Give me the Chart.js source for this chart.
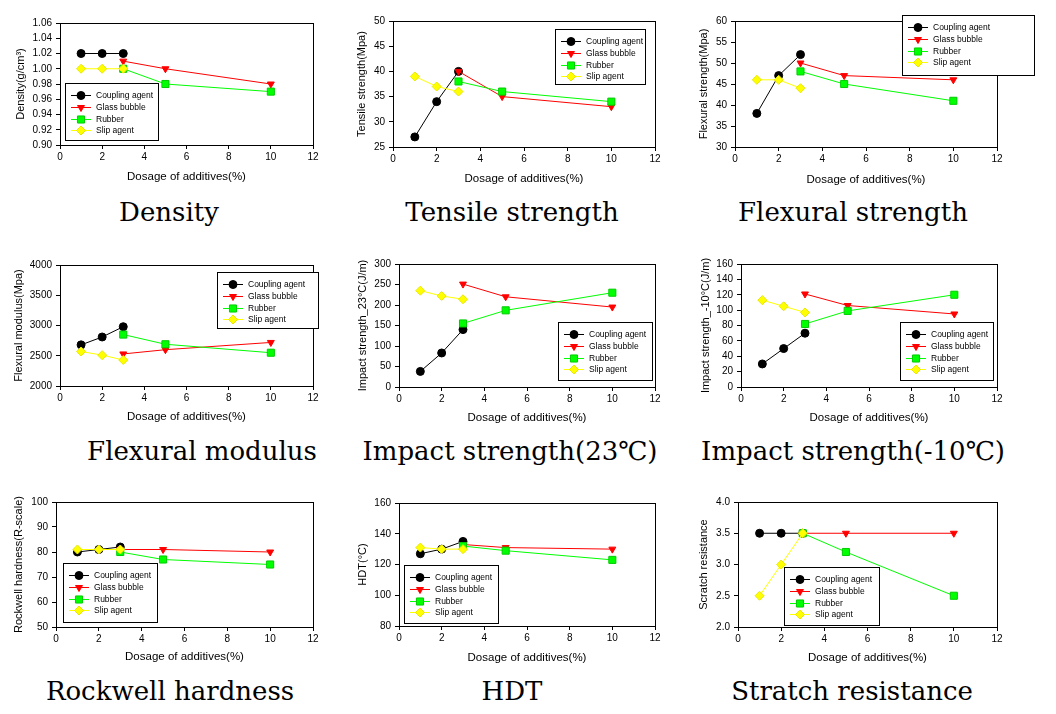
<!DOCTYPE html>
<html>
<head>
<meta charset="utf-8">
<script src="https://cdn.jsdelivr.net/npm/chart.js@4.4.1/dist/chart.umd.min.js"></script>
<style>
  body { margin: 0; background: #fff; width: 1056px; height: 714px; position: relative; overflow: hidden; }
  canvas { position: absolute; }
  .cap { position: absolute; font-family: "DejaVu Serif", serif; font-size: 26px; line-height: 30px;
         white-space: pre; transform: translateX(-50%); color: #000; }
</style>
</head>
<body>
<script>
// x positions (dosage, %)
const doseLow = [1, 2, 3];    // coupling agent, slip agent
const doseHigh = [3, 5, 10];  // glass bubble, rubber
const seriesNames = ['Coupling agent', 'Glass bubble', 'Rubber', 'Slip agent'];

// values per property, in seriesNames order
const density   = [[1.02, 1.02, 1.02], [1.01, 1.00, 0.98], [1.00, 0.98, 0.97], [1.00, 1.00, 1.00]];
const tensile   = [[27, 34, 40], [40, 35, 33], [38, 36, 34], [39, 37, 36]];
const flexStr   = [[38, 47, 52], [50, 47, 46], [48, 45, 41], [46, 46, 44]];
const flexMod   = [[2680, 2810, 2980], [2530, 2600, 2720], [2850, 2690, 2550], [2570, 2510, 2430]];
const impact23  = [[38, 83, 140], [251, 220, 195], [155, 187, 230], [235, 222, 214]];
const impactM10 = [[30, 50, 70], [121, 106, 95], [82, 99, 120], [113, 105, 97]];
const rockwell  = [[80, 81, 82], [81, 81, 80], [80, 77, 75], [81, 81, 81]];
const hdt       = [[127, 130, 135], [133, 131, 130], [132, 129, 123], [131, 130, 130]];
const scratch   = [[3.5, 3.5, 3.5], [3.5, 3.5, 3.5], [3.5, 3.2, 2.5], [2.5, 3.0, 3.5]];

const allValues = [density, tensile, flexStr, flexMod, impact23, impactM10, rockwell, hdt, scratch];

const captions = ['Density', 'Tensile strength', 'Flexural strength',
                  'Flexural modulus', 'Impact strength(23\u2103)', 'Impact strength(-10\u2103)',
                  'Rockwell hardness', 'HDT', 'Stratch resistance'];
const yTitles = ['Density(g/cm\u00b3)', 'Tensile strength(Mpa)', 'Flexural strength(Mpa)',
                 'Flexural modulus(Mpa)', 'Impact strength_23\u00b0C(J/m)', 'Impact strength_-10\u00b0C(J/m)',
                 'Rockwell hardness(R-scale)', 'HDT(\u00b0C)', 'Scratch resistance'];
const xTitle = 'Dosage of additives(%)';

// axis ranges / ticks
const yMin  = [0.90, 25, 30, 2000, 0, 0, 50, 80, 2.0];
const yMax  = [1.06, 50, 60, 4000, 300, 160, 100, 160, 4.0];
const yStep = [0.02, 5, 5, 500, 50, 20, 10, 20, 0.5];
const yDec  = [2, 0, 0, 0, 0, 0, 0, 0, 1];

// series styling
const lineColors = ['#000000', '#ff0000', '#00ff00', '#ffff00'];
const markerBorder = ['#000000', '#ff0000', '#00cc00', '#e6e600'];
const markers = ['circle', 'triangle', 'rect', 'rectRot'];
const markerRot = [0, 180, 0, 0];
const markerSize = [4, 4, 5, 4.5];

// page layout: plot area [l,t,r,b], y-title centre x, x-title centre y, legend box [x,y,w,h], caption centre
const layout = [
  { area: [60, 23, 313, 145],   yt: 21,  xt: 177, leg: [65, 83, 93, 57],    cap: [169, 212] },
  { area: [393, 21, 655, 147],  yt: 362, xt: 179, leg: [555, 29, 90, 55],   cap: [512, 212] },
  { area: [735, 21, 997, 147],  yt: 704, xt: 180, leg: [902, 15, 132, 60],  cap: [853, 212] },
  { area: [60, 265, 313, 386],  yt: 19,  xt: 417, leg: [217, 272, 101, 56], cap: [202, 451] },
  { area: [399, 264, 655, 387], yt: 363, xt: 418, leg: [558, 322, 94, 58],  cap: [510, 451] },
  { area: [741, 264, 997, 387], yt: 706, xt: 418, leg: [900, 322, 93, 58],  cap: [853, 451] },
  { area: [56, 502, 313, 627],  yt: 19,  xt: 657, leg: [63, 563, 94, 59],   cap: [170, 691] },
  { area: [399, 503, 655, 626], yt: 363, xt: 658, leg: [404, 565, 94, 58],  cap: [512, 691] },
  { area: [738, 502, 997, 627], yt: 704, xt: 658, leg: [784, 567, 95, 58],  cap: [852, 691] }
];

const FONT = '"Liberation Sans", Arial, sans-serif';

// box around the plot area
const framePlugin = {
  id: 'frame',
  afterDatasetsDraw(chart) {
    const { ctx, chartArea: a } = chart;
    ctx.save();
    ctx.strokeStyle = '#000';
    ctx.lineWidth = 1;
    ctx.strokeRect(Math.round(a.left) + 0.5, Math.round(a.top) + 0.5,
                   Math.round(a.right - a.left), Math.round(a.bottom - a.top));
    ctx.restore();
  }
};

// boxed legend placed inside the plot
const boxLegend = {
  id: 'boxLegend',
  afterDraw(chart, args, opts) {
    const ctx = chart.ctx;
    const [x, y, w, h] = opts.box;
    ctx.save();
    ctx.fillStyle = '#fff';
    ctx.fillRect(x, y, w, h);
    ctx.strokeStyle = '#000';
    ctx.lineWidth = 1;
    ctx.strokeRect(x + 0.5, y + 0.5, w, h);
    chart.data.datasets.forEach((ds, i) => {
      const ry = Math.round(y + 12 + i * 11.8) + 0.5;
      ctx.strokeStyle = ds.borderColor;
      ctx.beginPath();
      ctx.moveTo(x + 6, ry);
      ctx.lineTo(x + 26, ry);
      ctx.stroke();
      ctx.fillStyle = ds.pointBackgroundColor;
      ctx.strokeStyle = ds.pointBorderColor;
      Chart.helpers.drawPoint(ctx, {
        pointStyle: ds.pointStyle, rotation: ds.pointRotation,
        radius: ds.pointRadius, borderWidth: 1
      }, x + 16, ry);
      ctx.fillStyle = '#000';
      ctx.font = '8.5px ' + FONT;
      ctx.textBaseline = 'middle';
      ctx.fillText(ds.label, x + 31, ry);
    });
    ctx.restore();
  }
};

layout.forEach((p, k) => {
  const [al, at, ar, ab] = p.area;
  const cl = p.yt - 7;
  const ct = at - 22;
  const cr = Math.min(1056, Math.max(ar, p.leg[0] + p.leg[2]) + 14);
  const cb = p.xt + 7;
  const yw = al - cl;
  const xh = cb - ab;

  const cv = document.createElement('canvas');
  cv.width = cr - cl;
  cv.height = cb - ct;
  cv.style.left = cl + 'px';
  cv.style.top = ct + 'px';
  document.body.appendChild(cv);

  const cap = document.createElement('div');
  cap.className = 'cap';
  cap.textContent = captions[k];
  cap.style.left = p.cap[0] + 'px';
  cap.style.top = (p.cap[1] - 15) + 'px';
  document.body.appendChild(cap);

  const vals = allValues[k];
  const datasets = seriesNames.map((name, i) => {
    const xs = (i === 1 || i === 2) ? doseHigh : doseLow;
    return {
      label: name,
      data: xs.map((x, j) => ({ x: x, y: vals[i][j] })),
      borderColor: lineColors[i],
      borderWidth: 1,
      pointStyle: markers[i],
      pointRotation: markerRot[i],
      pointRadius: markerSize[i],
      pointBackgroundColor: lineColors[i],
      pointBorderColor: markerBorder[i],
      pointBorderWidth: 1,
      showLine: true,
      order: 4 - i
    };
  });

  const tickFont = { family: FONT, size: 10 };
  new Chart(cv.getContext('2d'), {
    type: 'scatter',
    data: { datasets },
    options: {
      responsive: false,
      animation: false,
      devicePixelRatio: 1,
      layout: { padding: { left: 0, top: at - ct, right: cr - ar, bottom: 0 } },
      plugins: {
        legend: { display: false },
        tooltip: { enabled: false },
        boxLegend: { box: [p.leg[0] - cl, p.leg[1] - ct, p.leg[2], p.leg[3]] }
      },
      scales: {
        x: {
          type: 'linear', min: 0, max: 12,
          ticks: { stepSize: 2, autoSkip: false, maxRotation: 0, color: '#000', font: tickFont, padding: 2 },
          grid: { drawOnChartArea: false, drawTicks: true, tickLength: 4, color: '#000' },
          border: { color: '#000' },
          title: { display: true, text: xTitle, color: '#000', padding: 0,
                   font: { family: FONT, size: 11.5, lineHeight: 1.2 } },
          afterFit: s => { s.height = xh; }
        },
        y: {
          type: 'linear', min: yMin[k], max: yMax[k],
          ticks: { stepSize: yStep[k], autoSkip: false, color: '#000', font: tickFont, padding: 4,
                   callback: v => Number(v).toFixed(yDec[k]) },
          grid: { drawOnChartArea: false, drawTicks: true, tickLength: 4, color: '#000' },
          border: { color: '#000' },
          title: { display: true, text: yTitles[k], color: '#000', padding: 0,
                   font: { family: FONT, size: 11, lineHeight: 1.2 } },
          afterFit: s => { s.width = yw; }
        }
      }
    },
    plugins: [framePlugin, boxLegend]
  });
});
</script>
</body>
</html>
